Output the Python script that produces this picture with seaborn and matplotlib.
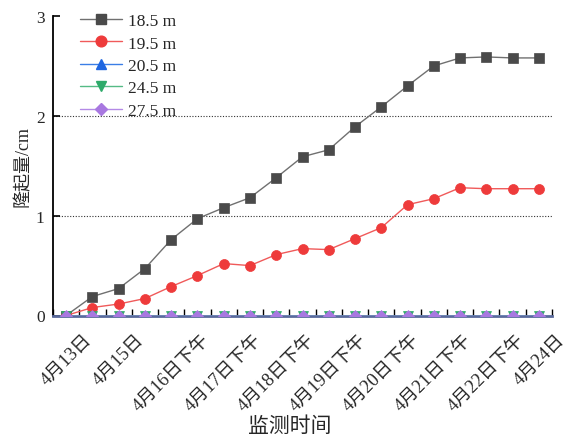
import numpy as np
import pandas as pd
import matplotlib
matplotlib.use("Agg")
import matplotlib.pyplot as plt
import seaborn as sns
from matplotlib.lines import Line2D
from matplotlib.ticker import FixedLocator, NullFormatter

# Monitoring epochs (19 readings); every second reading carries a date label
epoch = list(range(19))
tick_labels = ["4月13日", "4月15日", "4月16日下午", "4月17日下午", "4月18日下午",
               "4月19日下午", "4月20日下午", "4月21日下午", "4月22日下午", "4月24日"]

# Heave (cm) at each burial depth
heave_18_5 = [0.00, 0.19, 0.27, 0.47, 0.76, 0.97, 1.08, 1.18, 1.38, 1.59,
              1.66, 1.89, 2.09, 2.30, 2.50, 2.58, 2.59, 2.58, 2.58]
heave_19_5 = [0.00, 0.08, 0.115, 0.17, 0.29, 0.40, 0.52, 0.50, 0.61, 0.67,
              0.66, 0.77, 0.88, 1.11, 1.17, 1.28, 1.27, 1.27, 1.27]
heave_20_5 = [0.0] * 19
heave_24_5 = [0.0] * 19
heave_27_5 = [0.0] * 19

series_names = ["18.5 m", "19.5 m", "20.5 m", "24.5 m", "27.5 m"]
series_values = [heave_18_5, heave_19_5, heave_20_5, heave_24_5, heave_27_5]

df = pd.DataFrame({
    "epoch": epoch * len(series_names),
    "heave": np.concatenate(series_values),
    "depth": np.repeat(series_names, len(epoch)),
})

styles = {
    "18.5 m": dict(marker="s", line="#707070", face="#4a4a4a", ms=6.5),
    "19.5 m": dict(marker="o", line="#f05a5a", face="#ee3b3b", ms=7.2),
    "20.5 m": dict(marker="^", line="#3a7ee6", face="#1f66e0", ms=6.5),
    "24.5 m": dict(marker="v", line="#55bb85", face="#2eaa6a", ms=6.5),
    "27.5 m": dict(marker="D", line="#b48ae6", face="#a878e0", ms=5.8),
}

sns.set_style("ticks")
serif_cjk = ["Liberation Serif", "Noto Sans CJK SC"]
plt.rcParams["font.family"] = serif_cjk

fig = plt.figure(figsize=(5.71, 4.39), dpi=100)
ax = fig.add_axes([53 / 571, 1 - 316.5 / 439, 499 / 571, 299.5 / 439])

handles = []
for name in series_names:
    st = styles[name]
    sns.lineplot(data=df[df["depth"] == name], x="epoch", y="heave", ax=ax,
                 color=st["line"], marker=st["marker"], markersize=st["ms"],
                 markerfacecolor=st["face"], markeredgecolor=st["face"],
                 markeredgewidth=0.5, linewidth=1.0, zorder=3, legend=False)
    handles.append(Line2D([], [], color=st["line"], marker=st["marker"],
                          markersize=st["ms"] + 0.5, markerfacecolor=st["face"],
                          markeredgecolor=st["face"], linewidth=1.0, label=name))

# Keep markers inside the plotting area (half-hidden at the zero line)
for ln in ax.lines:
    ln.set_clip_on(True)
    ln.set_clip_path(ax.patch)
    ln.set_zorder(3)

ax.set_xlim(-0.5, 18.5)
ax.set_ylim(0, 3)

# Category axis: labels on every second reading, ticks between readings
ax.set_xticks(epoch[::2])
ax.set_xticklabels(tick_labels, rotation=45, ha="center", va="top",
                   fontsize=13.2, family=serif_cjk)
ax.tick_params(axis="x", which="major", length=0, pad=11)
ax.xaxis.set_minor_locator(FixedLocator(np.arange(-0.5, 19, 1.0)))
ax.xaxis.set_minor_formatter(NullFormatter())
ax.tick_params(axis="x", which="minor", direction="in", length=5, width=1.0,
               color="black")

ax.set_yticks([0, 1, 2, 3])
ax.set_yticklabels(["0", "1", "2", "3"], fontsize=12.5, family=serif_cjk)
ax.tick_params(axis="y", direction="in", length=5, width=1.2, pad=6,
               color="black")

# Dotted reference grid at interior heave levels
ax.yaxis.grid(True, linestyle=(0, (1, 1.5)), color="#333333", linewidth=0.8)
gl = ax.yaxis.get_gridlines()
gl[0].set_visible(False)
gl[-1].set_visible(False)

for side in ("top", "right"):
    ax.spines[side].set_visible(False)
ax.spines["left"].set_linewidth(1.3)
ax.spines["left"].set_color("black")
ax.spines["bottom"].set_linewidth(2.0)
ax.spines["bottom"].set_color("#5a6a9c")

ax.set_xlabel("监测时间", fontsize=15, family=serif_cjk, va="center")
ax.xaxis.set_label_coords((290 - 53) / 499, (316.5 - 427) / 299.5)
ax.set_ylabel("隆起量/cm", fontsize=13, family=serif_cjk, va="center")
ax.yaxis.set_label_coords((23 - 53) / 499, 0.5)

ax.legend(handles=handles, loc="upper left",
          bbox_to_anchor=((80 - 53) / 499, (316.5 - 14) / 299.5),
          frameon=False, handlelength=2.4, handletextpad=0.35,
          labelspacing=0.36, borderpad=0, borderaxespad=0,
          prop={"family": serif_cjk, "size": 12.5})

fig.savefig("out.png", dpi=100)
